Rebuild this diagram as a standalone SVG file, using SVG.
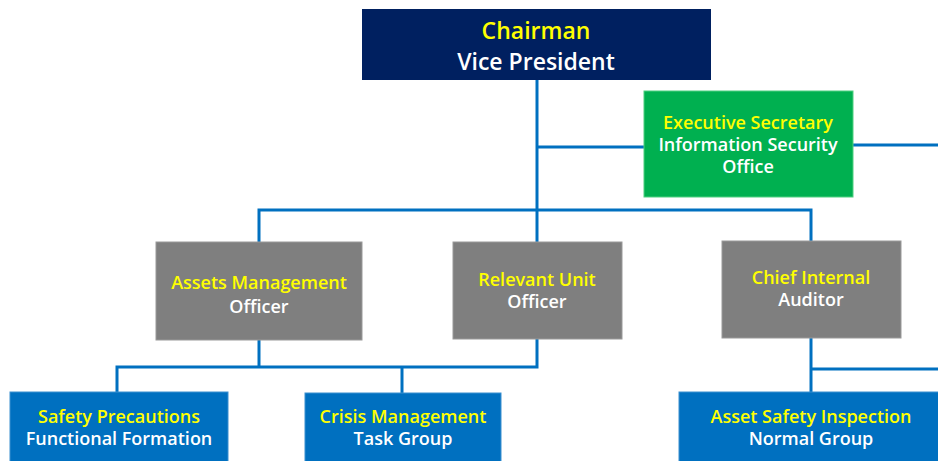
<svg xmlns="http://www.w3.org/2000/svg" width="938" height="461" viewBox="0 0 938 461">
<style>
text{font-family:"Open Sans","Noto Sans","Liberation Sans",sans-serif;text-anchor:middle;font-weight:600}
.y{fill:#FFFF00}
.w{fill:#FFFFFF}
.c{stroke:#0070C0;stroke-width:3;fill:none}
.n{fill:#002060}
.g{fill:#00B050;stroke:#4FD080;stroke-width:1}
.gr{fill:#7F7F7F;stroke:#9a9a9a;stroke-width:1}
.b{fill:#0070C0;stroke:#3b8fd0;stroke-width:1}
.t{font-size:18px}
</style>
<rect width="938" height="461" fill="#FFFFFF"/>
<g id="connectors">
<path class="c" d="M537 80 V210"/>
<path class="c" d="M537 147 H644"/>
<path class="c" d="M853 145 H938"/>
<path class="c" d="M259 242 V210 H811 V241"/>
<path class="c" d="M537 210 V242"/>
<path class="c" d="M259 340 V367"/>
<path class="c" d="M117 392 V367 H537 V339"/>
<path class="c" d="M402 367 V393"/>
<path class="c" d="M811 338 V392"/>
<path class="c" d="M811 369 H938"/>
</g>
<g id="chairman">
<rect class="n" x="362" y="9" width="349" height="71"/>
<text class="y" x="536" y="38.5" font-size="23">Chairman</text>
<text class="w" x="536" y="69.5" font-size="23">Vice President</text>
</g>
<g id="exec-secretary">
<rect class="g" x="644" y="91" width="209" height="106"/>
<text class="y t" x="748" y="129">Executive Secretary</text>
<text class="w t" x="748" y="151">Information Security</text>
<text class="w t" x="748" y="173">Office</text>
</g>
<g id="assets-management">
<rect class="gr" x="156" y="242" width="206" height="98"/>
<text class="y t" x="259" y="289">Assets Management</text>
<text class="w t" x="259" y="313">Officer</text>
</g>
<g id="relevant-unit">
<rect class="gr" x="453" y="242" width="169" height="97"/>
<text class="y t" x="537" y="286">Relevant Unit</text>
<text class="w t" x="537" y="308">Officer</text>
</g>
<g id="chief-auditor">
<rect class="gr" x="722" y="241" width="179" height="97"/>
<text class="y t" x="811" y="284">Chief Internal</text>
<text class="w t" x="811" y="306">Auditor</text>
</g>
<g id="safety-precautions">
<rect class="b" x="10" y="392" width="218" height="75"/>
<text class="y t" x="119" y="423">Safety Precautions</text>
<text class="w t" x="119" y="445">Functional Formation</text>
</g>
<g id="crisis-management">
<rect class="b" x="305" y="393" width="196" height="74"/>
<text class="y t" x="403" y="423">Crisis Management</text>
<text class="w t" x="403" y="445">Task Group</text>
</g>
<g id="asset-safety">
<rect class="b" x="679" y="392" width="265" height="75"/>
<text class="y t" x="811" y="423">Asset Safety Inspection</text>
<text class="w t" x="811" y="445">Normal Group</text>
</g>
</svg>
